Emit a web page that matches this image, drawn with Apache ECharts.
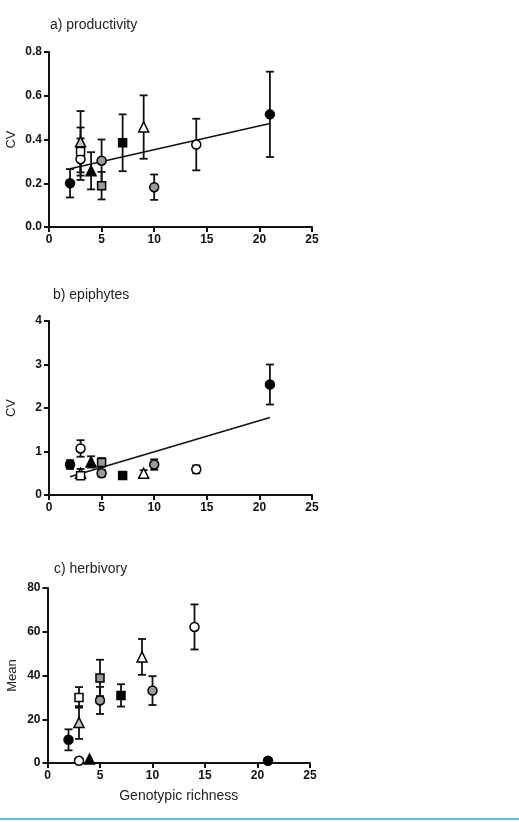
<!DOCTYPE html>
<html>
<head>
<meta charset="utf-8">
<script src="https://cdn.jsdelivr.net/npm/echarts@6/dist/echarts.min.js"></script>
<style>
html,body{margin:0;padding:0;background:#fff;}
#chart{width:519px;height:822px;}
</style>
</head>
<body>
<div id="chart"></div>
<script>
// ---- data ----
const richness   = [2, 3, 3, 3, 4, 5, 5, 7, 9, 10, 14, 21];
const cvProd     = [0.20, 0.31, 0.39, 0.345, 0.257, 0.189, 0.303, 0.385, 0.457, 0.182, 0.377, 0.515];
const cvProdErr  = [0.065, 0.095, 0.14, 0.11, 0.085, 0.063, 0.097, 0.13, 0.145, 0.058, 0.118, 0.195];
const cvEpi      = [0.70, 1.07, 0.50, 0.44, 0.76, 0.75, 0.50, 0.45, 0.50, 0.70, 0.59, 2.54];
const cvEpiErr   = [0.10, 0.19, 0.10, 0.06, 0.13, 0.10, 0.08, 0.04, 0.07, 0.12, 0.09, 0.46];
const herbMean   = [10.6, 1.0, 18.5, 30.0, 1.8, 38.9, 28.6, 30.9, 48.5, 33.1, 62.2, 1.0];
const herbErr    = [4.8, 0, 7.5, 4.7, 0, 8.3, 6.2, 5.1, 8.2, 6.6, 10.3, 0];
const prodFit    = [[2, 0.266], [21, 0.473]];
const epiFit     = [[2, 0.42], [21, 1.78]];
const xTicks     = [0, 5, 10, 15, 20, 25];
const panelTitles = ['a) productivity', 'b) epiphytes', 'c) herbivory'];
const yNames     = ['CV', 'CV', 'Mean'];
const xName      = 'Genotypic richness';

// ---- marker styles per study ----
const markerShape = ['circle','circle','triangle','rect','triangle','rect','circle','rect','triangle','circle','circle','circle'];
const markerFill  = ['#000','#fff','#c4c4c4','#fff','#000','#9a9a9a','#9a9a9a','#000','#fff','#9a9a9a','#fff','#000'];
const markerSize  = {circle: 9, rect: 8, triangle: 10};

const chart = echarts.init(document.getElementById('chart'), null, {renderer: 'canvas'});

function pts(vals) { return richness.map((x, i) => [x, vals[i], i]); }
function errs(vals, e) {
  const out = [];
  richness.forEach((x, i) => { if (e[i] > 0) out.push([x, vals[i] - e[i], vals[i] + e[i]]); });
  return out;
}

function errSeries(idx, data) {
  return {
    type: 'custom', xAxisIndex: idx, yAxisIndex: idx, z: 2, silent: true,
    renderItem: function (params, api) {
      const x = api.value(0);
      const lo = api.coord([x, api.value(1)]);
      const hi = api.coord([x, api.value(2)]);
      const cw = 4;
      const st = {stroke: '#111', lineWidth: 1.8};
      return {type: 'group', children: [
        {type: 'line', shape: {x1: lo[0], y1: lo[1], x2: hi[0], y2: hi[1]}, style: st},
        {type: 'line', shape: {x1: lo[0] - cw, y1: lo[1], x2: lo[0] + cw, y2: lo[1]}, style: st},
        {type: 'line', shape: {x1: hi[0] - cw, y1: hi[1], x2: hi[0] + cw, y2: hi[1]}, style: st}
      ]};
    },
    data: data
  };
}
function scatterSeries(idx, data) {
  return {
    type: 'scatter', xAxisIndex: idx, yAxisIndex: idx, z: 4, silent: true,
    symbol: (v) => markerShape[v[2]],
    symbolSize: (v) => markerSize[markerShape[v[2]]],
    itemStyle: {
      color: (p) => markerFill[p.data[2]],
      borderColor: '#000', borderWidth: 1.5, opacity: 1
    },
    data: data
  };
}
function fitSeries(idx, data) {
  return {
    type: 'line', xAxisIndex: idx, yAxisIndex: idx, z: 3, silent: true,
    showSymbol: false, symbol: 'none',
    lineStyle: {color: '#111', width: 1.6},
    data: data
  };
}

const axisLine = {show: true, lineStyle: {color: '#111', width: 2}};
const axisTick = {show: true, inside: false, length: 5, lineStyle: {color: '#111', width: 2}};
const labelStyle = {color: '#111', fontFamily: 'Liberation Sans, Arial, sans-serif', fontWeight: 'bold', fontSize: 12};

function xAx(idx, withName) {
  const a = {
    type: 'value', gridIndex: idx, min: xTicks[0], max: xTicks[xTicks.length - 1], interval: 5,
    axisLine: axisLine, axisTick: axisTick, splitLine: {show: false},
    axisLabel: Object.assign({margin: 7}, labelStyle)
  };
  if (withName) {
    a.name = xName; a.nameLocation = 'middle'; a.nameGap = 26; a.nameMoveOverlap = false;
    a.nameTextStyle = {color: '#222', fontFamily: 'Liberation Sans, Arial, sans-serif', fontSize: 14};
  }
  return a;
}
function yAx(idx, max, interval, fmt, gap) {
  return {
    type: 'value', gridIndex: idx, min: 0, max: max, interval: interval,
    axisLine: axisLine, axisTick: axisTick, splitLine: {show: false},
    axisLabel: Object.assign({margin: 7, formatter: fmt}, labelStyle),
    name: yNames[idx], nameLocation: 'middle', nameRotate: 90, nameGap: gap, nameMoveOverlap: false,
    nameTextStyle: {color: '#222', fontFamily: 'Liberation Sans, Arial, sans-serif', fontSize: 13}
  };
}

const titleStyle = {color: '#222', fontFamily: 'Liberation Sans, Arial, sans-serif', fontSize: 14, fontWeight: 'normal'};
const gridBase = {containLabel: false, outerBoundsMode: 'none'};

chart.setOption({
  animation: false,
  backgroundColor: '#fff',
  title: [
    {text: panelTitles[0], left: 50, top: 18, padding: 0, textStyle: titleStyle},
    {text: panelTitles[1], left: 53, top: 288, padding: 0, textStyle: titleStyle},
    {text: panelTitles[2], left: 54, top: 562, padding: 0, textStyle: titleStyle}
  ],
  grid: [
    Object.assign({left: 49, top: 52, width: 263, height: 175}, gridBase),
    Object.assign({left: 49, top: 321, width: 263, height: 174}, gridBase),
    Object.assign({left: 47.5, top: 588, width: 262.5, height: 175}, gridBase)
  ],
  xAxis: [xAx(0, false), xAx(1, false), xAx(2, true)],
  yAxis: [
    yAx(0, 0.8, 0.2, (v) => v.toFixed(1), 31),
    yAx(1, 4, 1, (v) => String(v), 31),
    yAx(2, 80, 20, (v) => String(v), 29)
  ],
  series: [
    errSeries(0, errs(cvProd, cvProdErr)),
    fitSeries(0, prodFit),
    scatterSeries(0, pts(cvProd)),
    errSeries(1, errs(cvEpi, cvEpiErr)),
    fitSeries(1, epiFit),
    scatterSeries(1, pts(cvEpi)),
    errSeries(2, errs(herbMean, herbErr)),
    scatterSeries(2, pts(herbMean))
  ],
  graphic: [
    {type: 'line', shape: {x1: 0, y1: 819, x2: 519, y2: 819}, style: {stroke: '#5cc6dc', lineWidth: 2}}
  ]
});
</script>
</body>
</html>
